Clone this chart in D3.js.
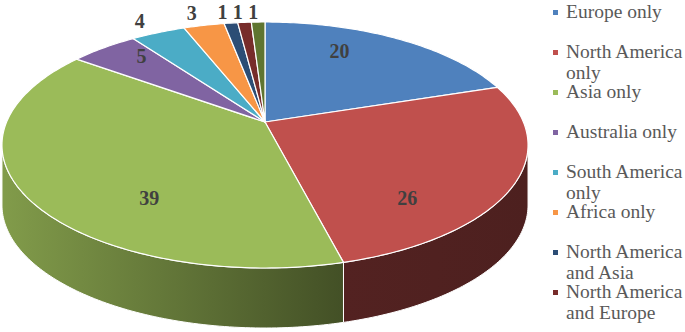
<!DOCTYPE html>
<html>
<head>
<meta charset="utf-8">
<script src="https://cdn.jsdelivr.net/npm/d3@7/dist/d3.min.js"></script>
<style>
  html, body { margin: 0; padding: 0; background: #fff; }
  #chart { width: 685px; height: 332px; }
</style>
</head>
<body>
<div id="chart"></div>
<script>
// chart values
const categories = ['Europe only', 'North America only', 'Asia only', 'Australia only',
  'South America only', 'Africa only', 'North America and Asia', 'North America and Europe',
  'Europe and Asia'];
const values = [20, 26, 39, 5, 4, 3, 1, 1, 1];
const colors = ['#4F81BD', '#C0504D', '#9BBB59', '#8064A2', '#4BACC6', '#F79646',
  '#2C4D75', '#772C2A', '#5F7530'];

const width = 685, height = 332;
// 3d pie geometry (perspective tilt)
const cx = 265, cy = 122, rx = 258.4, ry = 118.7, persp = 0.187, depth = 60;

function proj(a, r) {
  const X = r * Math.sin(a), Y = -r * Math.cos(a);
  const f = 1 / (1 - persp * Y);
  return [cx + rx * X * f, cy + ry * Y * f];
}

function arcPoints(a0, a1, r, n) {
  const pts = [];
  for (let i = 0; i <= n; i++) pts.push(proj(a0 + (a1 - a0) * i / n, r));
  return pts;
}

const svg = d3.select('#chart')
  .append('svg')
    .attr('width', width)
    .attr('height', height);

const defs = svg.append('defs');
const pie = d3.pie().sort(null).value(d => d);
const arcs = pie(values);
const line = d3.line().curve(d3.curveLinearClosed);

// side shading, lighter on the left
const shade = [[0, 0.83], [0.646, 0.43], [1, 0.40]];
arcs.forEach((d, i) => {
  const g = defs.append('linearGradient')
    .attr('id', 'side' + i)
    .attr('gradientUnits', 'userSpaceOnUse')
    .attr('x1', 5).attr('x2', 528).attr('y1', 0).attr('y2', 0);
  const c = d3.rgb(colors[i]);
  shade.forEach(s => {
    g.append('stop')
      .attr('offset', s[0])
      .attr('stop-color', d3.rgb(c.r * s[1], c.g * s[1], c.b * s[1]).formatHex());
  });
});

// outer walls (front half only)
const aL = Math.acos(-persp), aR = 2 * Math.PI - Math.acos(-persp);
const walls = svg.append('g');
arcs.forEach((d, i) => {
  const a0 = Math.max(d.startAngle, aL), a1 = Math.min(d.endAngle, aR);
  if (a0 >= a1) return;
  const n = Math.max(4, Math.ceil((a1 - a0) * 60));
  const top = arcPoints(a0, a1, 1, n);
  const bottom = top.map(p => [p[0], p[1] + depth]).reverse();
  walls.append('path')
    .attr('d', line(top.concat(bottom)))
    .attr('fill', 'url(#side' + i + ')')
    .attr('stroke', '#fff')
    .attr('stroke-width', 1);
});

// top faces
const tops = svg.append('g');
arcs.forEach((d, i) => {
  const n = Math.max(4, Math.ceil((d.endAngle - d.startAngle) * 60));
  const pts = [[cx, cy]].concat(arcPoints(d.startAngle, d.endAngle, 1, n));
  tops.append('path')
    .attr('d', line(pts))
    .attr('fill', colors[i])
    .attr('stroke', '#fff')
    .attr('stroke-width', 1.2)
    .attr('stroke-linejoin', 'round');
});

// data labels
const labels = svg.append('g')
  .style('font-family', '"Liberation Serif", "Times New Roman", serif')
  .style('font-weight', 'bold')
  .style('font-size', '20px')
  .attr('fill', '#404040')
  .attr('text-anchor', 'middle');
arcs.forEach((d, i) => {
  const mid = (d.startAngle + d.endAngle) / 2;
  let x, y;
  if (d.value >= 5) {
    const half = (d.endAngle - d.startAngle) / 2;
    const r = 2 * Math.sin(half) / (3 * half);
    const Y = -r * Math.cos(mid);
    x = proj(mid, r)[0] - (Y < 0 ? 12 : 0);
    y = cy + Y * (Y < 0 ? 140 : 265);
  } else {
    [x, y] = proj(mid, 1.16);
    x -= 4;
    y = Math.max(y, 11.5);
  }
  labels.append('text')
    .attr('x', x)
    .attr('y', y)
    .attr('dy', '0.35em')
    .text(d.value);
});

// legend
const legend = svg.append('g')
  .style('font-family', '"Liberation Serif", "Times New Roman", serif')
  .style('font-size', '19.5px')
  .attr('fill', '#595959');
categories.forEach((name, i) => {
  const base = 17.5 + i * 40;
  if (base > height) return;
  legend.append('rect')
    .attr('x', 553).attr('y', base - 7.5)
    .attr('width', 5).attr('height', 5)
    .attr('fill', colors[i]);
  const t = legend.append('text').attr('x', 566).attr('y', base);
  // wrap to legend width
  const words = name.split(' ');
  let lineNo = 0, cur = [];
  let ts = t.append('tspan').attr('x', 566).attr('y', base);
  words.forEach(w => {
    cur.push(w);
    ts.text(cur.join(' '));
    if (ts.node().getComputedTextLength() > 125 && cur.length > 1) {
      cur.pop();
      ts.text(cur.join(' '));
      cur = [w];
      lineNo++;
      ts = t.append('tspan').attr('x', 566).attr('y', base + lineNo * 21).text(w);
    }
  });
});
</script>
</body>
</html>
